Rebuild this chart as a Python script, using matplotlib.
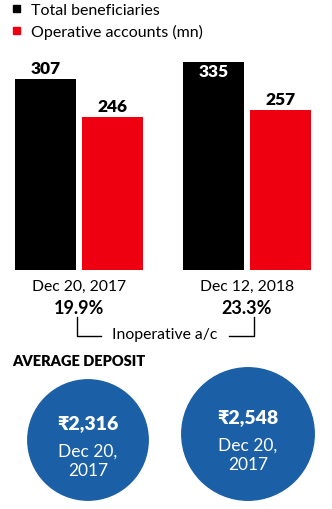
import matplotlib
matplotlib.use("Agg")
import matplotlib.pyplot as plt
from matplotlib.patches import Circle

plt.rcParams['font.family'] = ['Lato', 'DejaVu Sans']

# data
dates = ["Dec 20, 2017", "Dec 12, 2018"]
total_benef = [307, 335]
operative = [246, 257]
inoperative_pct = ["19.9%", "23.3%"]
avg_deposit = [2316, 2548]
deposit_labels = ["Dec 20,\n2017", "Dec 20,\n2017"]

BLACK = "#000000"
RED = "#ee0010"
BLUE = "#1b5fa6"

W, H = 332, 509
fig = plt.figure(figsize=(W / 100, H / 100), dpi=100)

# overlay in pixel coords for text / shapes
ov = fig.add_axes([0, 0, 1, 1])
ov.set_xlim(0, W)
ov.set_ylim(H, 0)
ov.axis("off")

# bar chart axes: baseline at y=270px, top at 50px
base_px, top_px = 270, 50
scale = 0.622  # px per unit
bx = fig.add_axes([0, (H - base_px) / H, 1, (base_px - top_px) / H])
bx.set_ylim(0, (base_px - top_px) / scale)
grp_px = [79, 247]
step = grp_px[1] - grp_px[0]
bx.set_xlim(-grp_px[0] / step, (W - grp_px[0]) / step)
bx.axis("off")

bw = 61 / step
off = 33.5 / step
xs = range(len(dates))
b1 = bx.bar([x - off for x in xs], total_benef, bw, color=BLACK)
b2 = bx.bar([x + off for x in xs], operative, bw, color=RED)

for i, (r, v) in enumerate(zip(b1, total_benef)):
    cx = r.get_x() + r.get_width() / 2
    if i == 0:
        bx.text(cx, v + 4, str(v), ha="center", va="bottom", fontsize=12.5,
                fontweight="heavy", color=BLACK)
    else:
        bx.text(cx, v - 4, str(v), ha="center", va="top", fontsize=12.5,
                fontweight="heavy", color="white")
for r, v in zip(b2, operative):
    cx = r.get_x() + r.get_width() / 2
    bx.text(cx, v + 4, str(v), ha="center", va="bottom", fontsize=12.5,
            fontweight="heavy", color=BLACK)

# legend
ov.add_patch(plt.Rectangle((13, 5), 7, 7, color=BLACK))
ov.text(31, 11, "Total beneficiaries", fontsize=11.5, va="center", ha="left")
ov.add_patch(plt.Rectangle((13, 27), 7, 7, color=RED))
ov.text(31, 32, "Operative accounts (mn)", fontsize=11.5, va="center", ha="left")

# dates and inoperative %
for gx, d, p in zip(grp_px, dates, inoperative_pct):
    ov.text(gx, 287, d, fontsize=11.3, ha="center", va="center")
    ov.text(gx, 309, p, fontsize=13, fontweight="bold", ha="center", va="center")

# bracket
ov.plot([77, 77, 101], [317, 336, 336], color=BLACK, lw=1)
ov.plot([229, 254, 254], [336, 336, 317], color=BLACK, lw=1)
ov.text(165, 335, "Inoperative a/c", fontsize=11.3, ha="center", va="center")

# average deposit
ov.text(12, 361, "AVERAGE DEPOSIT", fontsize=10.5, fontweight="heavy",
        ha="left", va="center")
centers = [(88, 440), (248, 434)]
for (cx, cy), v, lab in zip(centers, avg_deposit, deposit_labels):
    r = v * 0.026
    ov.add_patch(Circle((cx, cy), r, color=BLUE))
    ov.text(cx, cy - 16, "\u20b9{:,}".format(v), fontsize=14, fontweight="heavy",
            color="white", ha="center", va="center")
    ov.text(cx, cy + 21, lab, fontsize=12.5, color="white", ha="center",
            va="center", linespacing=1.25)

fig.savefig("out.png", dpi=100)
